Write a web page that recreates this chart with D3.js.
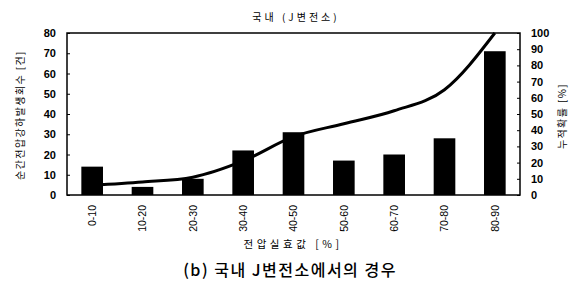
<!DOCTYPE html>
<html>
<head>
<meta charset="utf-8">
<script src="https://cdn.jsdelivr.net/npm/d3@7"></script>
<style>
  html, body { margin: 0; padding: 0; background: #fff; }
  svg { display: block; }
</style>
</head>
<body>
<script>
const categories = ["0-10","10-20","20-30","30-40","40-50","50-60","60-70","70-80","80-90"];
const counts = [14, 4, 8, 22, 31, 17, 20, 28, 71];
const cumulative = [6, 8, 11, 21, 36, 44, 52, 65, 100];
const leftTicks = [0,10,20,30,40,50,60,70,80];
const rightTicks = [0,10,20,30,40,50,60,70,80,90,100];

const W = 578, H = 287;
const svg = d3.select("body").append("svg").attr("width", W).attr("height", H);

const m = {left: 67, right: 520, top: 33, bottom: 195};
const x = d3.scaleBand().domain(categories).range([m.left, m.right]).paddingInner(0.57).paddingOuter(0.285);
const yL = d3.scaleLinear().domain([0, 80]).range([m.bottom, m.top]);
const yR = d3.scaleLinear().domain([0, 100]).range([m.bottom, m.top]);

const numFont = "'Liberation Sans', Arial, sans-serif";
const krFont = "'Noto Sans CJK KR', sans-serif";

// cumulative line (drawn beneath bars)
const line = d3.line()
  .x((d, i) => x(categories[i]) + x.bandwidth() / 2)
  .y(d => yR(d))
  .curve(d3.curveMonotoneX);
svg.append("path").datum(cumulative)
  .attr("d", line).attr("fill", "none").attr("stroke", "#000").attr("stroke-width", 3);

// bars
svg.selectAll("rect.bar").data(counts).enter().append("rect")
  .attr("class", "bar")
  .attr("x", (d, i) => x(categories[i]))
  .attr("width", x.bandwidth())
  .attr("y", d => yL(d))
  .attr("height", d => yL(0) - yL(d))
  .attr("fill", "#000");

// frame
svg.append("rect").attr("x", m.left).attr("y", m.top)
  .attr("width", m.right - m.left).attr("height", m.bottom - m.top)
  .attr("fill", "none").attr("stroke", "#000").attr("stroke-width", 1.5);

// left axis
const axL = d3.axisLeft(yL).tickValues(leftTicks).tickSizeInner(-3).tickSizeOuter(0).tickPadding(11);
const gL = svg.append("g").attr("transform", `translate(${m.left},0)`).call(axL);
gL.select(".domain").remove();
gL.selectAll("text").attr("font-family", numFont).attr("font-weight", "bold").attr("font-size", 11).attr("fill", "#000");

// right axis
const axR = d3.axisRight(yR).tickValues(rightTicks).tickSizeInner(-3).tickSizeOuter(0).tickPadding(11);
const gR = svg.append("g").attr("transform", `translate(${m.right},0)`).call(axR);
gR.select(".domain").remove();
gR.selectAll("text").attr("font-family", numFont).attr("font-weight", "bold").attr("font-size", 11).attr("fill", "#000");

// x axis labels
const axB = d3.axisBottom(x).tickSize(0).tickPadding(0);
const gB = svg.append("g").attr("transform", `translate(0,${m.bottom})`).call(axB);
gB.select(".domain").remove();
gB.selectAll("text")
  .attr("font-family", numFont).attr("font-size", 10.5).attr("fill", "#000")
  .attr("text-anchor", "end").attr("dy", "0.35em")
  .attr("transform", "translate(0,10) rotate(-90)")
  .attr("x", 0).attr("y", 0);

// titles
svg.append("text").attr("x", 296).attr("y", 21).attr("text-anchor", "middle")
  .attr("font-family", krFont).attr("font-size", 10).attr("letter-spacing", 3).attr("fill", "#000").text("국내 (J변전소)");

svg.append("text").attr("x", 293).attr("y", 248).attr("text-anchor", "middle")
  .attr("font-family", krFont).attr("font-size", 10.5).attr("letter-spacing", 3.5).attr("fill", "#000").text("전압실효값 [%]");

svg.append("text").attr("transform", "translate(24,115) rotate(-90)").attr("text-anchor", "middle")
  .attr("font-family", krFont).attr("font-size", 10).attr("letter-spacing", 1.4).attr("fill", "#000").text("순간전압강하발생회수 [건]");

svg.append("text").attr("transform", "translate(566,116) rotate(-90)").attr("text-anchor", "middle")
  .attr("font-family", krFont).attr("font-size", 10).attr("letter-spacing", 1.4).attr("fill", "#000").text("누적확률 [%]");

svg.append("text").attr("x", 290).attr("y", 276).attr("text-anchor", "middle")
  .attr("font-family", krFont).attr("font-size", 16).attr("font-weight", "500").attr("letter-spacing", 1.5).attr("fill", "#000").text("(b) 국내 J변전소에서의 경우");
</script>
</body>
</html>
